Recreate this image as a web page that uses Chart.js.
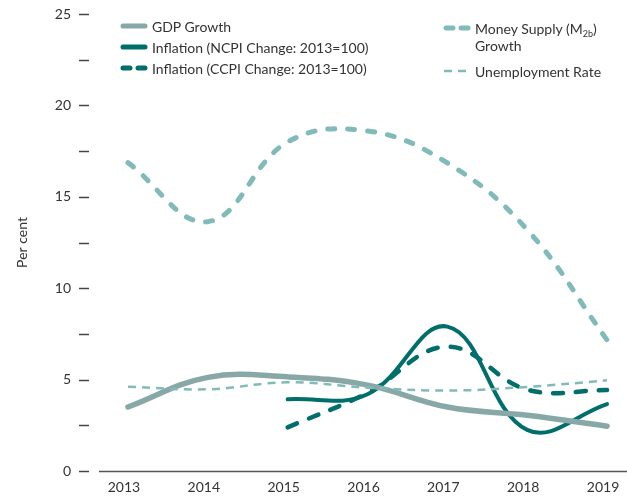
<!DOCTYPE html>
<html lang="en">
<head>
<meta charset="UTF-8">
<title>Macro indicators</title>
<style>
    body { margin: 0; background: #fff; }
    #wrap { position: relative; width: 627px; height: 498px; }
    .legend { position: absolute; font-family: Lato, "Open Sans", sans-serif; font-size: 14px; color: #333; }
    .item { position: absolute; white-space: nowrap; line-height: 17px; }
    .item svg { position: absolute; left: 0; top: 3px; }
    .item span { position: absolute; left: 32px; top: 0; }
    sub { font-size: 9px; vertical-align: -3px; line-height: 0; }
</style>
</head>
<body>
<div id="wrap">
    <canvas id="ecoChart" width="627" height="498"></canvas>
    <div class="legend" style="left:120px; top:18px;">
        <div class="item" style="top:0px;">
            <svg width="28" height="10"><line x1="3" y1="5" x2="25" y2="5" stroke="#88a8a8" stroke-width="5" stroke-linecap="round"/></svg>
            <span>GDP Growth</span>
        </div>
        <div class="item" style="top:21px;">
            <svg width="28" height="10"><line x1="3" y1="5" x2="25" y2="5" stroke="#006e6a" stroke-width="5" stroke-linecap="round"/></svg>
            <span>Inflation (NCPI Change: 2013=100)</span>
        </div>
        <div class="item" style="top:42px;">
            <svg width="28" height="10"><line x1="3" y1="5" x2="25" y2="5" stroke="#006e6a" stroke-width="5" stroke-linecap="round" stroke-dasharray="7 8"/></svg>
            <span>Inflation (CCPI Change: 2013=100)</span>
        </div>
    </div>
    <div class="legend" style="left:443px; top:20px;">
        <div class="item" style="top:0px;">
            <svg width="28" height="10"><line x1="3" y1="5" x2="25" y2="5" stroke="#80bbb9" stroke-width="5" stroke-linecap="round" stroke-dasharray="7 8"/></svg>
            <span>Money Supply (M<sub>2b</sub>)<br>Growth</span>
        </div>
        <div class="item" style="top:43px;">
            <svg width="28" height="10"><line x1="1" y1="5" x2="26" y2="5" stroke="#80bbb9" stroke-width="2.5" stroke-dasharray="8 6"/></svg>
            <span>Unemployment Rate</span>
        </div>
    </div>
</div>

<script src="https://cdn.jsdelivr.net/npm/chart.js"></script>
<script>
    // years on the x axis
    const years = [2013, 2014, 2015, 2016, 2017, 2018, 2019];

    // series values (per cent)
    const gdpGrowth     = [3.5, 5.12, 5.15, 4.7, 3.5, 3.05, 2.45];
    const ncpiInflation = [null, null, 3.92, 4.2, 7.9, 2.25, 3.66];
    const ccpiInflation = [null, null, 2.39, 4.27, 6.8, 4.45, 4.43];
    const moneySupply   = [16.87, 13.64, 18.0, 18.6, 16.85, 13.2, 7.17];
    const unemployment  = [4.61, 4.47, 4.85, 4.56, 4.4, 4.6, 4.96];

    // y tick values (labels only on multiples of 5)
    const yTicks = [0, 2.5, 5, 7.5, 10, 12.5, 15, 17.5, 20, 22.5, 25];

    const toPoints = vals => years.map((y, i) => ({ x: y, y: vals[i] }));

    // draws the short y tick marks and the x axis line
    const axisMarks = {
        id: 'axisMarks',
        beforeDatasetsDraw(chart) {
            const c = chart.ctx;
            const yScale = chart.scales.y;
            const area = chart.chartArea;
            c.save();
            c.strokeStyle = '#444';
            c.lineWidth = 1.5;
            yTicks.forEach(t => {
                const py = Math.round(yScale.getPixelForValue(t)) + 0.5;
                c.beginPath();
                c.moveTo(area.left - 20, py);
                c.lineTo(area.left - 10, py);
                c.stroke();
            });
            c.strokeStyle = '#555';
            const by = Math.round(yScale.getPixelForValue(0)) + 0.5;
            c.beginPath();
            c.moveTo(area.left, by);
            c.lineTo(area.right, by);
            c.stroke();
            c.restore();
        }
    };

    const ctx = document.getElementById('ecoChart').getContext('2d');
    const ecoChart = new Chart(ctx, {
        type: 'line',
        data: {
            datasets: [
                {
                    label: 'Money Supply (M2b) Growth',
                    data: toPoints(moneySupply),
                    borderColor: '#80bbb9',
                    borderWidth: 5,
                    borderDash: [7, 13],
                    borderCapStyle: 'round'
                },
                {
                    label: 'Unemployment Rate',
                    data: toPoints(unemployment),
                    borderColor: '#80bbb9',
                    borderWidth: 2.5,
                    borderDash: [8, 6]
                },
                {
                    label: 'GDP Growth',
                    data: toPoints(gdpGrowth),
                    borderColor: '#88a8a8',
                    borderWidth: 5.5,
                    borderCapStyle: 'round'
                },
                {
                    label: 'Inflation (CCPI Change: 2013=100)',
                    data: toPoints(ccpiInflation),
                    borderColor: '#006e6a',
                    borderWidth: 4.5,
                    borderDash: [10, 13],
                    borderCapStyle: 'round'
                },
                {
                    label: 'Inflation (NCPI Change: 2013=100)',
                    data: toPoints(ncpiInflation),
                    borderColor: '#006e6a',
                    borderWidth: 4,
                    borderCapStyle: 'round'
                }
            ]
        },
        options: {
            responsive: false,
            animation: false,
            layout: { padding: { top: 14, right: 0, bottom: 0, left: 0 } },
            elements: {
                point: { radius: 0 },
                line: { tension: 0.4, fill: false }
            },
            plugins: {
                legend: { display: false },
                tooltip: { enabled: false }
            },
            scales: {
                x: {
                    type: 'linear',
                    min: 2012.637,
                    max: 2019.25,
                    afterBuildTicks: scale => { scale.ticks = years.map(v => ({ value: v })); },
                    afterFit: scale => { scale.height = 27; },
                    grid: { display: false, tickLength: 8 },
                    border: { display: false },
                    ticks: {
                        padding: 0,
                        labelOffset: -4,
                        color: '#333',
                        font: { family: 'Lato', size: 14 },
                        callback: v => String(v)
                    }
                },
                y: {
                    min: 0,
                    max: 25,
                    afterBuildTicks: scale => { scale.ticks = yTicks.map(v => ({ value: v })); },
                    afterFit: scale => { scale.width = 99; },
                    grid: { display: false, tickLength: 28 },
                    border: { display: false },
                    title: {
                        display: true,
                        text: 'Per cent',
                        color: '#333',
                        font: { family: 'Lato', size: 14 },
                        padding: { top: 14, bottom: 0 }
                    },
                    ticks: {
                        padding: 0,
                        color: '#333',
                        font: { family: 'Lato', size: 14 },
                        callback: v => (v % 5 === 0 ? String(v) : '')
                    }
                }
            }
        },
        plugins: [axisMarks]
    });
</script>
</body>
</html>
